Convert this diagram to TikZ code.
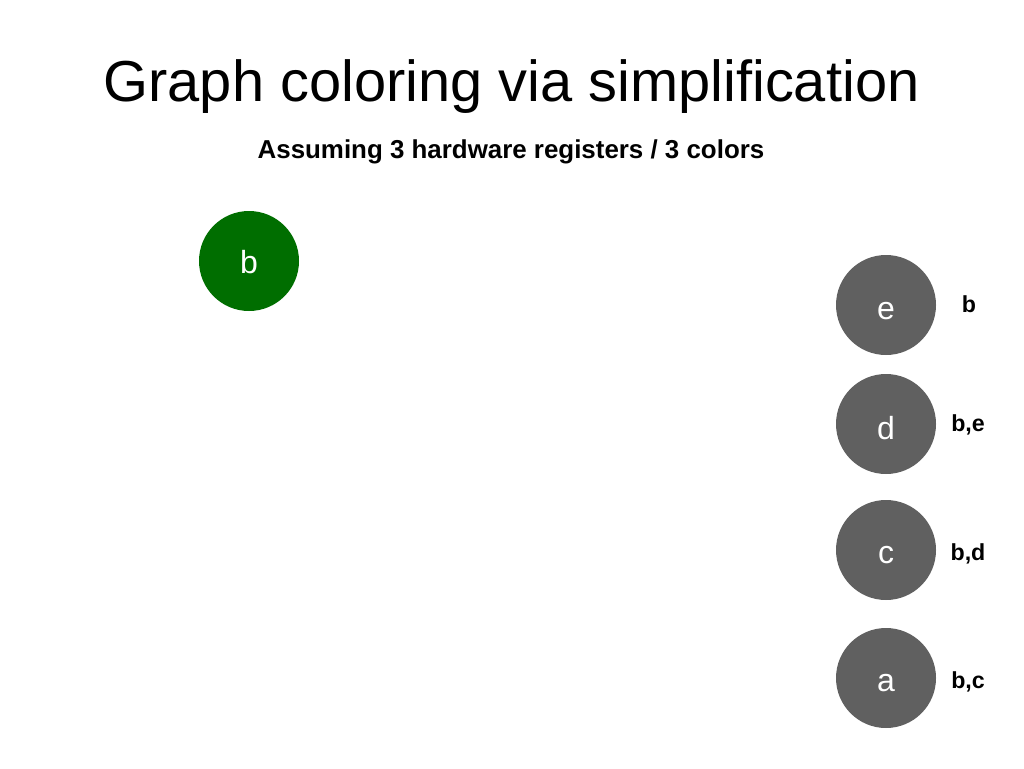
\documentclass[tikz,border=0pt]{standalone}
\usepackage{fontspec}
\setmainfont{Liberation Sans}
\definecolor{regGreen}{RGB}{0,110,0}
\definecolor{stackGray}{RGB}{96,96,96}
\begin{document}
\begin{tikzpicture}[x=1pt,y=-1pt,
  vnode/.style={circle,inner sep=0pt,minimum size=100pt},
  greennode/.style={vnode,fill=regGreen},
  graynode/.style={vnode,fill=stackGray},
  vlabel/.style={anchor=base,inner sep=0pt,text=white,font=\fontsize{32}{36}\selectfont},
  neigh/.style={anchor=base,inner sep=0pt,font=\bfseries\fontsize{23.2}{26}\selectfont}]
\useasboundingbox (0,0) rectangle (1024,768);
\node[anchor=base,inner sep=0pt,font=\fontsize{57.8}{64}\selectfont] (title) at (511.5,101) {Graph coloring via simplification};
\node[anchor=base,inner sep=0pt,font=\bfseries\fontsize{25.9}{30}\selectfont] (sub) at (511,158) {Assuming 3 hardware registers / 3 colors};
% graph
\node[greennode] (b) at (249,261) {};
\node[vlabel] (bt) at (249,273) {b};
% stack
\node[graynode] (e) at (886,305) {};
\node[vlabel] (et) at (886,319) {e};
\node[graynode] (d) at (886,424) {};
\node[vlabel] (dt) at (886,439) {d};
\node[graynode] (c) at (886,550) {};
\node[vlabel] (ct) at (886,563) {c};
\node[graynode] (a) at (886,678) {};
\node[vlabel] (at) at (886,691) {a};
% neighbour lists
\node[neigh] (ne) at (969,312) {b};
\node[neigh] (nd) at (968,431) {b,e};
\node[neigh] (nc) at (968,560) {b,d};
\node[neigh] (na) at (968,688) {b,c};
\end{tikzpicture}
\end{document}
